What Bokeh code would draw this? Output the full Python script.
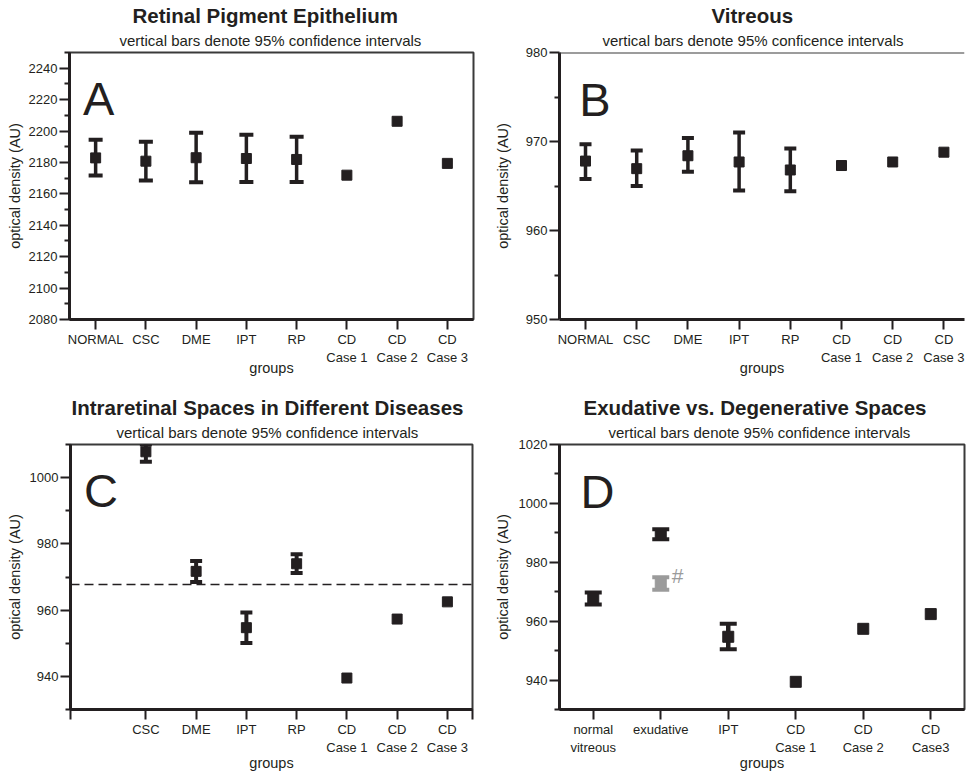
from bokeh.plotting import figure
from bokeh.layouts import column, row
from bokeh.models import (ColumnDataSource, Whisker, TeeHead, Span, Label, Title,
                          FixedTicker, Range1d)
from bokeh.embed import file_html
from bokeh.resources import INLINE

INK = "#231f20"
GRAY = "#9b9b9b"
FONT = "Liberation Sans"
SUB = "vertical bars denote 95% confidence intervals"

# ---------------- data ----------------
# Panel A: Retinal Pigment Epithelium
groups_a = ["NORMAL", "CSC", "DME", "IPT", "RP", "CD\nCase 1", "CD\nCase 2", "CD\nCase 3"]
mean_a = [2182.9, 2180.8, 2183.0, 2182.5, 2181.9, 2171.9, 2206.2, 2179.4]
low_a = [2171.7, 2168.5, 2167.4, 2167.6, 2167.6, None, None, None]
up_a = [2194.4, 2193.1, 2198.9, 2197.6, 2196.3, None, None, None]
yticks_a = [2080, 2100, 2120, 2140, 2160, 2180, 2200, 2220, 2240]

# Panel B: Vitreous
groups_b = ["NORMAL", "CSC", "DME", "IPT", "RP", "CD\nCase 1", "CD\nCase 2", "CD\nCase 3"]
mean_b = [967.8, 966.95, 968.4, 967.7, 966.8, 967.3, 967.7, 968.8]
low_b = [965.8, 965.0, 966.6, 964.5, 964.4, None, None, None]
up_b = [969.7, 969.0, 970.4, 971.0, 969.2, None, None, None]
yticks_b = [950, 960, 970, 980]

# Panel C: Intraretinal spaces (NORMAL slot left empty)
groups_c = ["", "CSC", "DME", "IPT", "RP", "CD\nCase 1", "CD\nCase 2", "CD\nCase 3"]
mean_c = [None, 1007.8, 971.7, 954.7, 974.0, 939.5, 957.3, 962.5]
low_c = [None, 1004.8, 968.5, 950.1, 971.2, None, None, None]
up_c = [None, 1010.0, 974.8, 959.3, 976.9, None, None, None]
normal_vitreous_ref = 967.7
yticks_c = [940, 960, 980, 1000]

# Panel D: Exudative vs. degenerative spaces
groups_d = ["normal\nvitreous", "exudative", "IPT", "CD\nCase 1", "CD\nCase 2", "CD\nCase3"]
mean_d = [967.7, 989.5, 954.7, 939.4, 957.4, 962.4]
low_d = [965.7, 987.8, 950.5, None, None, None]
up_d = [969.7, 991.2, 959.1, None, None, None]
gray_group_d = 1
gray_mean_d = 972.9
gray_low_d = 970.7
gray_up_d = 974.9
yticks_d = [940, 960, 980, 1000, 1020]


def make_panel(width, height, borders, x_range, y_range, title, subtitle, yticks, yminor,
               groups, extra_xticks=(), ylab_standoff=5, title_offsets=(0, 0),
               xlab_standoff=0):
    left, right, top, bottom = borders
    p = figure(width=width, height=height, x_range=Range1d(*x_range),
               y_range=Range1d(*y_range), output_backend="svg",
               toolbar_location=None, title=title,
               min_border_left=left, min_border_right=right,
               min_border_top=top, min_border_bottom=bottom)
    p.title.align = "left"
    p.title.text_font = FONT
    p.title.text_font_size = "20.5px"
    p.title.text_font_style = "bold"
    p.title.text_color = INK
    p.title.text_line_height = 1.6
    p.title.standoff = 0
    p.title.offset = title_offsets[0]
    p.add_layout(Title(text=subtitle, align="left", text_font=FONT,
                       text_font_size="15px", text_font_style="normal",
                       text_color=INK, standoff=7, offset=title_offsets[1]), "above")
    p.grid.visible = False
    p.outline_line_color = "#3a3a3a"
    p.outline_line_width = 2
    p.background_fill_color = "white"
    p.border_fill_color = "white"

    positions = list(range(len(groups)))
    ticks = list(extra_xticks) + [i for i, g in zip(positions, groups) if g != ""]
    p.xaxis.ticker = FixedTicker(ticks=ticks)
    overrides = {i: g for i, g in zip(positions, groups)}
    for t in extra_xticks:
        overrides[t] = ""
    p.xaxis.major_label_overrides = overrides
    p.yaxis.ticker = FixedTicker(ticks=yticks, minor_ticks=yminor)

    for ax in (p.xaxis[0], p.yaxis[0]):
        ax.axis_line_width = 3
        ax.axis_line_color = INK
        ax.major_tick_line_width = 2
        ax.major_tick_line_color = INK
        ax.minor_tick_line_width = 2
        ax.minor_tick_line_color = INK
        ax.major_tick_in = 0
        ax.major_tick_out = 10
        ax.minor_tick_in = 0
        ax.minor_tick_out = 5
        ax.major_label_text_font = FONT
        ax.major_label_text_font_size = "13px"
        ax.major_label_text_color = INK
        ax.major_label_standoff = 2
        ax.axis_label_text_font = FONT
        ax.axis_label_text_font_size = "14.5px"
        ax.axis_label_text_font_style = "normal"
        ax.axis_label_text_color = INK
    p.xaxis.minor_tick_line_color = None
    p.xaxis.axis_label = "groups"
    p.xaxis.axis_label_standoff = xlab_standoff
    p.yaxis.axis_label = "optical density (AU)"
    p.yaxis.axis_label_standoff = ylab_standoff
    return p


def add_series(p, groups, means, lows, ups, color, cap, lw, sq):
    xs = list(range(len(groups)))
    ci = ColumnDataSource(dict(
        x=[x for x, lo in zip(xs, lows) if lo is not None],
        lower=[lo for lo in lows if lo is not None],
        upper=[u for u in ups if u is not None]))
    p.add_layout(Whisker(base="x", lower="lower", upper="upper", source=ci,
                         line_width=lw, line_color=color,
                         upper_head=TeeHead(size=cap, line_width=4, line_color=color),
                         lower_head=TeeHead(size=cap, line_width=4, line_color=color)))
    pts = ColumnDataSource(dict(
        x=[x for x, m in zip(xs, means) if m is not None],
        y=[m for m in means if m is not None]))
    p.scatter("x", "y", source=pts, marker="square", size=sq,
              fill_color=color, line_color=color)


def letter(p, txt, x, y):
    p.add_layout(Label(x=x, y=y, text=txt, text_font=FONT, text_font_size="47px",
                       text_color=INK, text_baseline="alphabetic"))


# ---------------- A ----------------
pA = make_panel(480, 382, (69, 7, 52, 63), (-0.52, 7.52), (2080, 2250),
                "Retinal Pigment Epithelium", SUB, yticks_a,
                [2090, 2110, 2130, 2150, 2170, 2190, 2210, 2230, 2250], groups_a,
                ylab_standoff=3, title_offsets=(63, 50), xlab_standoff=-8)
add_series(pA, groups_a, mean_a, low_a, up_a, INK, 14, 3.5, 10)
letter(pA, "A", -0.25, 2220.5)

# ---------------- B ----------------
pB = make_panel(486, 382, (79, 2, 52, 63), (-0.508, 7.402), (950, 980),
                "Vitreous", "vertical bars denote 95% conficence intervals",
                yticks_b, [955, 965, 975], groups_b, ylab_standoff=12,
                title_offsets=(152, 43), xlab_standoff=-8)
pB.outline_line_color = None
pB.add_layout(Span(location=980, dimension="width", line_color="#3a3a3a", line_width=2))
add_series(pB, groups_b, mean_b, low_b, up_b, INK, 12, 3.5, 10)
letter(pB, "B", -0.12, 974.7)

# ---------------- C ----------------
pC = make_panel(480, 391, (70, 8, 62, 62), (-0.5, 7.5), (930, 1010),
                "Intraretinal Spaces in Different Diseases", SUB, yticks_c,
                [930, 950, 970, 990, 1010], groups_c, extra_xticks=(-0.5, 7.5),
                ylab_standoff=4, title_offsets=(1, 46), xlab_standoff=-3)
pC.add_layout(Span(location=normal_vitreous_ref, dimension="width", line_color=INK,
                   line_width=1.5, line_dash="9 5"))
add_series(pC, groups_c, mean_c, low_c, up_c, INK, 12, 4, 10)
letter(pC, "C", -0.23, 996.0)

# ---------------- D ----------------
pD = make_panel(486, 391, (79, 2, 62, 62), (-0.5, 5.5), (930, 1020),
                "Exudative vs. Degenerative Spaces", SUB, yticks_d,
                [930, 950, 970, 990, 1010], groups_d, ylab_standoff=5,
                title_offsets=(24, 49), xlab_standoff=-3)
add_series(pD, groups_d, mean_d, low_d, up_d, INK, 17, 4.5, 11)
gsrc = ColumnDataSource(dict(x=[gray_group_d], lower=[gray_low_d], upper=[gray_up_d],
                             y=[gray_mean_d]))
pD.add_layout(Whisker(base="x", lower="lower", upper="upper", source=gsrc,
                      line_width=4.5, line_color=GRAY,
                      upper_head=TeeHead(size=17, line_width=4, line_color=GRAY),
                      lower_head=TeeHead(size=17, line_width=4, line_color=GRAY)))
pD.scatter("x", "y", source=gsrc, marker="square", size=11, fill_color=GRAY,
           line_color=GRAY)
pD.add_layout(Label(x=gray_group_d, y=974.5, x_offset=11, y_offset=3, text="#",
                    text_font=FONT, text_font_size="21px", text_color=GRAY,
                    text_baseline="alphabetic"))
letter(pD, "D", -0.19, 1004.1)

layout = column(row(pA, pB), row(pC, pD))
open("out.html", "w").write(file_html(layout, INLINE))
